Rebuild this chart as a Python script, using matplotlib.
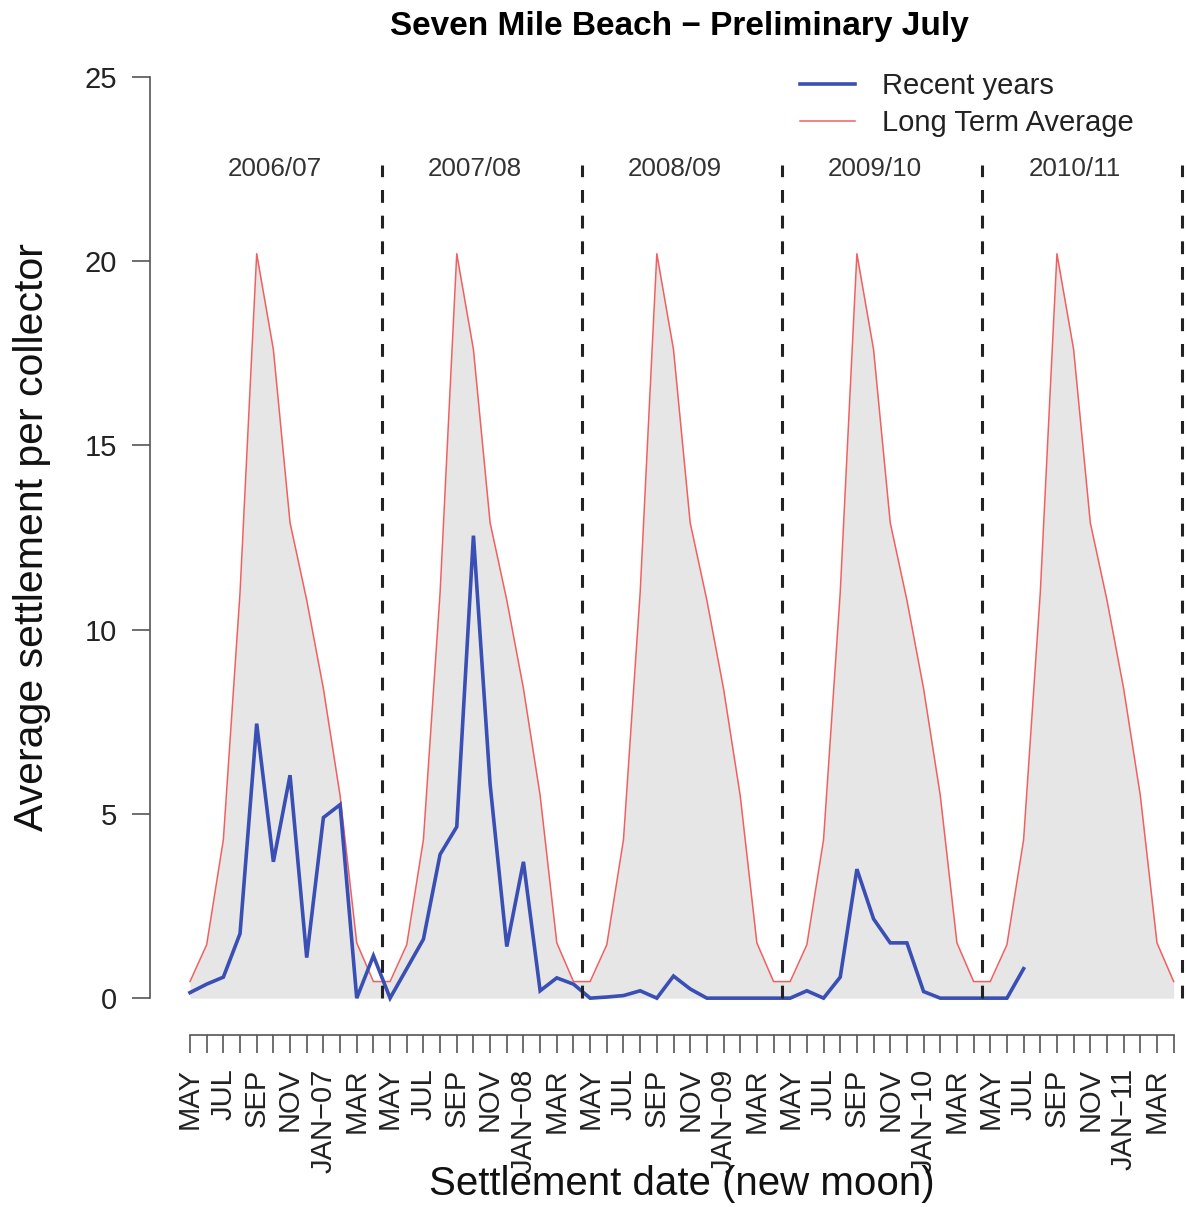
import numpy as np
import matplotlib
matplotlib.use("Agg")
import matplotlib.pyplot as plt

plt.rcParams['font.family'] = ['Liberation Sans', 'DejaVu Sans']

# ---------------- data ----------------
month_names = ["MAY", "JUN", "JUL", "AUG", "SEP", "OCT", "NOV", "DEC",
               "JAN", "FEB", "MAR", "APR"]
years_short = ["07", "08", "09", "10", "11"]
seasons = ["2006/07", "2007/08", "2008/09", "2009/10", "2010/11"]

# long-term average settlement per month (MAY..APR), same for every season
lta_cycle = [0.45, 1.45, 4.3, 11.0, 20.2, 17.6, 12.9, 10.8, 8.4, 5.5, 1.5, 0.45]

# recent years (May 2006 .. Jul 2010)
recent = [0.15, 0.38, 0.57, 1.75, 7.45, 3.7, 6.05, 1.1, 4.9, 5.25, 0.0, 1.15,
          0.0, 0.8, 1.6, 3.9, 4.65, 12.55, 5.8, 1.4, 3.7, 0.2, 0.55, 0.38,
          0.0, 0.03, 0.07, 0.2, 0.0, 0.6, 0.25, 0.0, 0.0, 0.0, 0.0, 0.0,
          0.0, 0.2, 0.0, 0.57, 3.5, 2.15, 1.5, 1.5, 0.18, 0.0, 0.0, 0.0,
          0.0, 0.0, 0.8]

# ---------------- build ----------------
n_years = len(seasons)
n_months = 12 * n_years
x_all = np.arange(n_months)
lta = np.tile(lta_cycle, n_years)
x_recent = np.arange(len(recent))

tick_labels = []
for i in range(n_months):
    m = month_names[i % 12]
    if m == "JAN":
        m = "JAN\u2212" + years_short[i // 12]
    tick_labels.append(m if i % 2 == 0 else "")

W, H = 1187, 1207
fig = plt.figure(figsize=(W / 100, H / 100), dpi=100)
ax = fig.add_axes([150 / W, (H - 1035) / H, 1037 / W, 995 / H])

ax.fill_between(x_all, 0, lta, color="#e6e6e6", lw=0, zorder=1)
ax.plot(x_all, lta, color="#f06060", lw=1.1, zorder=2, label="Long Term Average")
ax.plot(x_recent, recent, color="#3a4fb4", lw=2.6, zorder=3, label="Recent years",
        solid_joinstyle="miter")

for k in range(n_years):
    xb = 12 * k + 11.5
    ax.plot([xb, xb], [0, 22.6], color="#222222", lw=2.2, dashes=(4.2, 4.2),
            zorder=4)
    ax.text(12 * k + 5.1, 22.5, seasons[k], ha="center", va="center",
            fontsize=18.7, color="#333333")

ax.set_xlim(-2.4, 59.8)
ax.set_ylim(-1.0, 26.0)

for s in ["top", "right"]:
    ax.spines[s].set_visible(False)
ax.spines["left"].set_bounds(0, 25)
ax.spines["bottom"].set_bounds(0, n_months - 1)
for s in ["left", "bottom"]:
    ax.spines[s].set_color("#555555")
    ax.spines[s].set_linewidth(1.2)

ax.set_yticks([0, 5, 10, 15, 20, 25])
ax.set_yticklabels(["0", "5", "10", "15", "20", "25"])
ax.set_xticks(x_all)
ax.set_xticklabels(tick_labels, rotation=90)
ax.tick_params(axis="y", length=13, width=1.2, color="#555555", pad=11,
               labelsize=21, labelcolor="#222222")
ax.tick_params(axis="x", length=13, width=1.2, color="#555555", pad=11,
               labelsize=21, labelcolor="#222222")

handles, labels = ax.get_legend_handles_labels()
order = [1, 0]
leg = ax.legend([handles[i] for i in order], [labels[i] for i in order],
                loc="upper left", bbox_to_anchor=(800 / W, 1 - 72 / H),
                bbox_transform=fig.transFigure, frameon=False, fontsize=21,
                borderpad=0, borderaxespad=0, handlelength=1.9,
                handletextpad=0.9, labelspacing=0.3)
for t in leg.get_texts():
    t.set_color("#222222")

fig.text(679 / W, 1 - 26 / H, "Seven Mile Beach \u2212 Preliminary July",
         ha="center", va="center", fontsize=24, fontweight="bold")
fig.text(32 / W, 1 - 537 / H, "Average settlement per collector",
         ha="center", va="center", rotation=90, fontsize=29.5, color="#111111")
fig.text(682 / W, 1 - 1184 / H, "Settlement date (new moon)",
         ha="center", va="center", fontsize=29, color="#111111")

fig.savefig("out.png", dpi=100)
